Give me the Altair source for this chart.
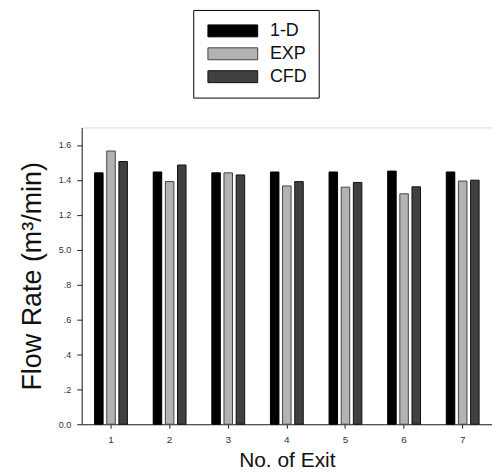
import altair as alt
import pandas as pd

exits = ["1", "2", "3", "4", "5", "6", "7"]
series_names = ["1-D", "EXP", "CFD"]
one_d = [1.44, 1.445, 1.44, 1.445, 1.445, 1.45, 1.445]
exp_vals = [1.565, 1.39, 1.44, 1.365, 1.358, 1.32, 1.393]
cfd_vals = [1.505, 1.485, 1.428, 1.39, 1.385, 1.36, 1.398]
y_tick_values = [0.0, 0.2, 0.4, 0.6, 0.8, 1.0, 1.2, 1.4, 1.6]
y_tick_labels = ["0.0", ".2", ".4", ".6", ".8", "5.0", "1.2", "1.4", "1.6"]

rows = []
for name, vals in zip(series_names, [one_d, exp_vals, cfd_vals]):
    for e, v in zip(exits, vals):
        rows.append({"exit": e, "series": name, "flow": v})
df = pd.DataFrame(rows)

label_expr = " : ".join(
    f"abs(datum.value - {v}) < 0.001 ? '{l}'" for v, l in zip(y_tick_values, y_tick_labels)
) + " : ''"

font = "Liberation Sans"

chart = alt.Chart(df).mark_bar(strokeWidth=1).encode(
    x=alt.X("exit:N", sort=exits,
            scale=alt.Scale(paddingInner=0.44, paddingOuter=0.22),
            axis=alt.Axis(title="No. of Exit", labelAngle=0, labelFontSize=10,
                          labelColor="#333", labelFont=font, labelPadding=6,
                          tickSize=4, tickColor="#222", domainColor="#222",
                          titleFont=font, titleFontSize=21, titleFontWeight="normal",
                          titleColor="#111", titlePadding=5)),
    xOffset=alt.XOffset("series:N", sort=series_names,
                        scale=alt.Scale(paddingInner=0.3, paddingOuter=0)),
    y=alt.Y("flow:Q",
            scale=alt.Scale(domain=[0, 1.7], nice=False),
            axis=alt.Axis(title="Flow Rate (m³/min)", values=y_tick_values,
                          labelExpr=label_expr, labelFontSize=9, labelColor="#333",
                          labelFont=font, labelPadding=6, tickSize=5,
                          tickColor="#222", domainColor="#222", grid=False,
                          titleFont=font, titleFontSize=27, titleFontWeight="normal",
                          titleColor="#111", titlePadding=12)),
    color=alt.Color("series:N", sort=series_names,
                    scale=alt.Scale(domain=series_names,
                                    range=["#000000", "#b3b3b3", "#404040"]),
                    legend=alt.Legend(title=None, orient="none", legendX=112, legendY=-118,
                                      strokeColor="#000", padding=12, rowPadding=5,
                                      labelFont=font, labelFontSize=18, labelColor="#111",
                                      labelOffset=47,
                                      symbolType="M-1,-0.96H7V0.96H-1Z", symbolSize=156,
                                      symbolStrokeWidth=1, symbolStrokeColor="#222",
                                      symbolOpacity=1)),
    stroke=alt.Stroke("series:N", sort=series_names,
                      scale=alt.Scale(domain=series_names,
                                      range=["#000000", "#444444", "#111111"]),
                      legend=None),
).properties(
    width=412, height=298,
    padding={"left": 10, "top": 0, "right": 0, "bottom": 0},
).configure_view(stroke=None).configure(background="white")

chart.save("out.html", embed_options={"renderer": "svg", "actions": False})
